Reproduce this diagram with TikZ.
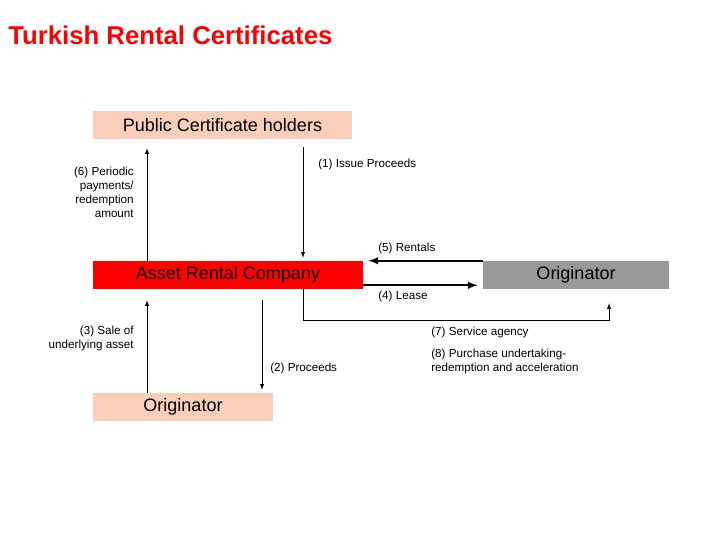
\documentclass[tikz,border=0pt]{standalone}
\usepackage{fontspec}
\setmainfont{Liberation Sans}
\usetikzlibrary{calc}
\definecolor{peach}{RGB}{250,206,184}
\definecolor{certred}{RGB}{255,0,0}
\definecolor{origgray}{RGB}{153,153,153}

\begin{document}
\begin{tikzpicture}[x=0.025cm,y=-0.025cm,
    box/.style={minimum height=0.7cm, inner sep=0pt, font=\fontsize{12.8}{14}\selectfont},
    lbl/.style={font=\fontsize{8.3}{10}\selectfont, inner sep=0pt},
    flow/.style={->, >=latex},
    fat/.style={->, >=latex, line width=1.4pt}]

\useasboundingbox (0,0) rectangle (720,540);

% Title
\node[anchor=west, inner sep=0pt, text=certred, font=\fontsize{18.3}{22}\bfseries] (title) at (8,35) {Turkish Rental Certificates};

% Boxes
\node[box, fill=peach, minimum width=6.475cm] (pub) at (222.5,125) {Public Certificate holders};
\node[box, fill=certred, minimum width=6.75cm] (arc) at (228,275) {Asset Rental Company};
\node[box, fill=origgray, minimum width=4.65cm] (orig) at (576,275) {Originator};
\node[box, fill=peach, minimum width=4.5cm] (origb) at (183,407) {Originator};

% Upper arrows
\draw[flow, shorten >=9*0.025cm] (arc.north -| 147,0) -- (pub.south -| 147,0);
\draw[flow, shorten <=8*0.025cm, shorten >=3*0.025cm] (pub.south -| 303,0) -- (arc.north -| 303,0);

% Rentals and lease
\draw[fat, shorten >=5*0.025cm] (orig.north west) -- (arc.north east |- orig.north west);
\draw[fat, shorten >=5*0.025cm] ($(arc.south east)+(0,-4)$) -- ($(orig.south west)+(0,-4)$);

% Service agency
\coordinate (c1) at (303,320);
\draw[flow, shorten >=14*0.025cm] (arc.south -| 303,0) -- (c1) -- (c1 -| 609,0) -- (orig.south -| 609,0);

% Lower arrows
\draw[flow, shorten >=11*0.025cm] (origb.north -| 147,0) -- (arc.south -| 147,0);
\draw[flow, shorten <=11*0.025cm, shorten >=3*0.025cm] (arc.south -| 262,0) -- (origb.north -| 262,0);

% Labels
\node[lbl, anchor=north east, align=right] (l6) at (134,167) {(6) Periodic\\payments/\\redemption\\amount};
\node[lbl, anchor=west] (l1) at (318,164) {(1) Issue Proceeds};
\node[lbl, anchor=west] (l5) at (378,248) {(5) Rentals};
\node[lbl, anchor=west] (l4) at (378,296) {(4) Lease};
\node[lbl, anchor=north east, align=right] (l3) at (134,326) {(3) Sale of\\underlying asset};
\node[lbl, anchor=west] (l2) at (270,368) {(2) Proceeds};
\node[lbl, anchor=west] (l7) at (431,332) {(7) Service agency};
\node[lbl, anchor=north west, align=left] (l8) at (431,349) {(8) Purchase undertaking-\\redemption and acceleration};

\end{tikzpicture}
\end{document}
